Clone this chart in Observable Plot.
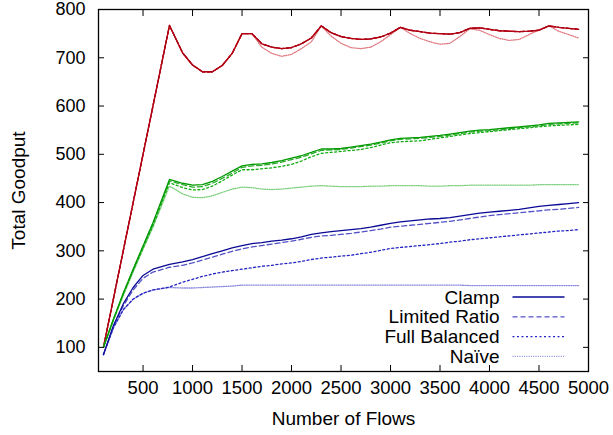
<!DOCTYPE html>
<html>
<head>
<meta charset="utf-8">
<script src="https://cdn.jsdelivr.net/npm/d3@7"></script>
<script src="https://cdn.jsdelivr.net/npm/@observablehq/plot@0.6"></script>
<style>
  html, body { margin: 0; padding: 0; background: #fff; }
  svg { font-family: "Liberation Sans", Arial, Helvetica, sans-serif; }
</style>
</head>
<body>
<div id="chart"></div>
<script>
// ---- data ----
const flows = [100, 200, 300, 400, 500, 600, 767, 900, 1000, 1100, 1200, 1300, 1400, 1500, 1600, 1700, 1800, 1900, 2000, 2100, 2200, 2300, 2400, 2500, 2600, 2700, 2800, 2900, 3000, 3100, 3200, 3300, 3400, 3500, 3600, 3700, 3800, 3900, 4000, 4100, 4200, 4300, 4400, 4500, 4600, 4700, 4800, 4900];

const redClamp = [100, 200, 300, 400, 500, 600, 767, 710, 685, 671, 671, 684, 709, 750, 750, 729, 722, 719, 721, 729, 741, 766, 752, 744, 740, 738, 739, 743, 751, 763, 757, 754, 751, 750, 749, 752, 761, 762, 759, 756, 755, 754, 755, 757, 766, 763, 761, 759];
const redLimited = redClamp;
const redFull = redClamp;
const redNaive = [100, 200, 300, 400, 500, 600, 767, 710, 685, 671, 671, 684, 709, 750, 750, 722, 709, 703, 707, 719, 733, 766, 745, 730, 721, 719, 722, 733, 748, 763, 750, 740, 733, 728, 730, 744, 760, 757, 748, 740, 736, 738, 748, 758, 766, 755, 748, 741];

const greenClamp = [100, 158, 212, 262, 310, 358, 448, 440, 436, 437, 444, 454, 465, 476, 479, 480, 483, 487, 492, 497, 504, 511, 511, 512, 515, 518, 521, 525, 530, 533, 534, 535, 537, 539, 542, 545, 548, 550, 551, 553, 555, 557, 559, 561, 564, 565, 566, 567];
const greenLimited = [100, 158, 211, 261, 309, 356, 445, 437, 432, 433, 440, 450, 461, 473, 476, 477, 480, 484, 489, 494, 501, 508, 509, 510, 513, 516, 519, 523, 528, 531, 532, 533, 535, 537, 540, 543, 546, 548, 549, 551, 553, 555, 557, 559, 562, 563, 564, 565];
const greenFull = [100, 157, 210, 259, 306, 352, 441, 431, 426, 427, 434, 445, 457, 468, 468, 470, 472, 475, 479, 486, 495, 502, 504, 506, 508, 510, 514, 519, 524, 526, 527, 528, 531, 534, 537, 540, 543, 545, 547, 549, 551, 553, 555, 557, 559, 560, 561, 562];
const greenNaive = [100, 155, 207, 256, 303, 349, 434, 418, 411, 410, 414, 421, 428, 432, 431, 428, 427, 428, 430, 432, 434, 435, 434, 433, 433, 433, 434, 434, 435, 435, 435, 435, 434, 434, 435, 435, 436, 436, 436, 436, 436, 436, 436, 437, 437, 437, 437, 437];

const blueClamp = [85, 145, 190, 224, 249, 262, 272, 277, 282, 288, 294, 300, 306, 311, 315, 317, 320, 322, 325, 329, 334, 337, 340, 342, 344, 346, 349, 353, 357, 360, 362, 364, 366, 367, 369, 372, 375, 378, 380, 382, 384, 386, 389, 392, 394, 396, 398, 400];
const blueLimited = [85, 143, 186, 219, 243, 256, 266, 270, 275, 281, 287, 293, 299, 304, 308, 311, 314, 317, 320, 324, 328, 331, 332, 334, 336, 339, 342, 345, 349, 351, 353, 355, 357, 359, 361, 364, 367, 370, 373, 375, 377, 379, 381, 383, 385, 386, 388, 390];
const blueFull = [85, 140, 178, 200, 212, 219, 225, 235, 241, 247, 252, 256, 259, 262, 265, 268, 270, 273, 275, 278, 282, 285, 287, 289, 291, 294, 297, 301, 305, 307, 309, 311, 313, 315, 318, 320, 323, 325, 327, 329, 331, 333, 335, 337, 339, 341, 342, 344];
const blueNaive = [85, 140, 178, 200, 212, 219, 224, 223, 223, 224, 225, 226, 227, 229, 229, 229, 229, 229, 229, 229, 229, 229, 229, 229, 229, 229, 229, 229, 229, 229, 229, 229, 229, 229, 229, 229, 228, 228, 228, 228, 228, 228, 228, 228, 228, 228, 228, 228];

const xTicks = [500, 1000, 1500, 2000, 2500, 3000, 3500, 4000, 4500, 5000];
const yTicks = [100, 200, 300, 400, 500, 600, 700, 800];
const legendNames = ["Clamp", "Limited Ratio", "Full Balanced", "Naïve"];

// ---- styles ----
const FONT = "'Liberation Sans', Arial, Helvetica, sans-serif";
const dash = {Clamp: null, "Limited Ratio": "5,3", "Full Balanced": "2,2.5", "Naïve": "1,1.3"};
const widths = {Clamp: 1.3, "Limited Ratio": 1.3, "Full Balanced": 1.3, "Naïve": 1.3};
const colors = {
  red:   {Clamp: "#b00012", "Limited Ratio": "#b00012", "Full Balanced": "#b00012", "Naïve": "#e07a80"},
  green: {Clamp: "#009a00", "Limited Ratio": "#2aaa2a", "Full Balanced": "#10ac10", "Naïve": "#7ccf7c"},
  blue:  {Clamp: "#0a0a96", "Limited Ratio": "#5252c8", "Full Balanced": "#2424c4", "Naïve": "#8a8ade"}
};

const series = [
  {group: "red", method: "Naïve", values: redNaive},
  {group: "red", method: "Full Balanced", values: redFull},
  {group: "red", method: "Limited Ratio", values: redLimited},
  {group: "red", method: "Clamp", values: redClamp},
  {group: "green", method: "Naïve", values: greenNaive},
  {group: "green", method: "Full Balanced", values: greenFull},
  {group: "green", method: "Limited Ratio", values: greenLimited},
  {group: "green", method: "Clamp", values: greenClamp},
  {group: "blue", method: "Naïve", values: blueNaive},
  {group: "blue", method: "Full Balanced", values: blueFull},
  {group: "blue", method: "Limited Ratio", values: blueLimited},
  {group: "blue", method: "Clamp", values: blueClamp}
];

const lineMarks = series.map(s => Plot.line(
  flows.map((f, i) => ({f, v: s.values[i]})),
  {x: "f", y: "v", stroke: colors[s.group][s.method], strokeWidth: widths[s.method],
   strokeDasharray: dash[s.method], strokeLinejoin: "round"}
));

const noText = () => "";

const chart = Plot.plot({
  width: 613,
  height: 435,
  marginLeft: 98,
  marginRight: 25,
  marginTop: 9,
  marginBottom: 64,
  style: {fontSize: "18px", fontFamily: FONT, color: "#000", background: "#fff", overflow: "visible"},
  x: {domain: [50, 5000]},
  y: {domain: [50, 800]},
  marks: [
    ...lineMarks,
    Plot.frame({stroke: "#000", strokeWidth: 1.3}),
    // inward ticks on all four sides
    Plot.axisX(xTicks, {anchor: "bottom", tickSize: 6, dy: -6, tickFormat: noText, label: null, stroke: "#000"}),
    Plot.axisX(xTicks, {anchor: "top", tickSize: 6, dy: 6, tickFormat: noText, label: null, stroke: "#000"}),
    Plot.axisY(yTicks, {anchor: "left", tickSize: 6, dx: 6, tickFormat: noText, label: null, stroke: "#000"}),
    Plot.axisY(yTicks, {anchor: "right", tickSize: 6, dx: -6, tickFormat: noText, label: null, stroke: "#000"}),
    // tick labels
    Plot.axisX(xTicks, {anchor: "bottom", tickSize: 0, tickPadding: 9, label: null, fontSize: 18.5, tickFormat: d => String(d)}),
    Plot.axisY(yTicks, {anchor: "left", tickSize: 0, tickPadding: 13, label: null, fontSize: 18, tickFormat: d => String(d)}),
    // axis titles
    Plot.text(["Number of Flows"], {frameAnchor: "bottom", dy: 47.5, text: d => d, fontSize: 19,
      textAnchor: "middle", lineAnchor: "middle"}),
    Plot.text(["Total Goodput"], {frameAnchor: "left", dx: -80, rotate: -90, text: d => d, fontSize: 19,
      textAnchor: "middle", lineAnchor: "middle"})
  ]
});

// legend (inside plot, bottom right)
const svg = d3.select(chart);
const lg = svg.append("g").attr("font-size", 19).attr("font-family", FONT);
legendNames.forEach((name, i) => {
  const y = 297 + i * 19.8;
  lg.append("text").attr("x", 499.5).attr("y", y).attr("dy", "0.35em")
    .attr("text-anchor", "end").attr("fill", "#000").text(name);
  lg.append("line").attr("x1", 512.5).attr("x2", 564.5).attr("y1", y).attr("y2", y)
    .attr("stroke", colors.blue[name]).attr("stroke-width", widths[name])
    .attr("stroke-dasharray", dash[name]);
});

document.getElementById("chart").appendChild(chart);
</script>
</body>
</html>
